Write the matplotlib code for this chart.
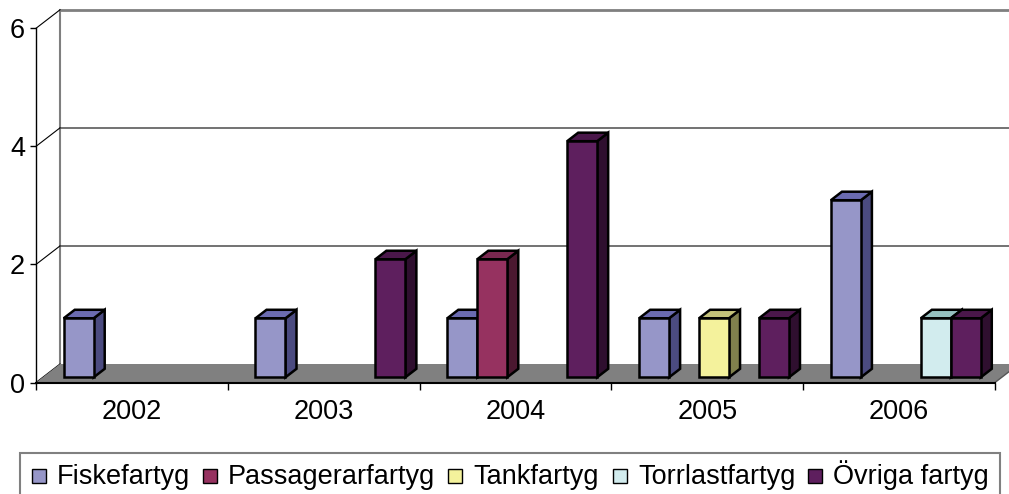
import matplotlib
matplotlib.use("Agg")
import matplotlib.pyplot as plt
from matplotlib.patches import Rectangle, Polygon
import numpy as np

# ---------------- data ----------------
years = ['2002', '2003', '2004', '2005', '2006']
series_names = ['Fiskefartyg', 'Passagerarfartyg', 'Tankfartyg', 'Torrlastfartyg', 'Övriga fartyg']
fiske = [1, 1, 1, 1, 3]
passagerar = [0, 0, 2, 0, 0]
tank = [0, 0, 0, 1, 0]
torrlast = [0, 0, 0, 0, 1]
ovriga = [0, 2, 4, 1, 1]
yticks = [0, 2, 4, 6]

# ---------------- styles ----------------
front_cols = ['#9696C8', '#963260', '#F4F29C', '#D2ECEE', '#5E1F5E']
top_cols = ['#6B6BB0', '#7A2850', '#C4C27A', '#96C0C0', '#4A174A']
side_cols = ['#4B4B80', '#4B1830', '#80804D', '#6A8484', '#2F0F2F']
FONT = 'Liberation Sans'
plt.rcParams['font.family'] = [FONT, 'DejaVu Sans']
FS = 19.5

W, H = 1009, 494
fig = plt.figure(figsize=(W / 100, H / 100), dpi=100)

# front plane in pixels
L, R = 36, 995
Y0, Y6 = 382.5, 28.3
ax = fig.add_axes([L / W, (H - Y0) / H, (R - L) / W, (Y0 - Y6) / H])
ncat = len(years)
ax.set_xlim(0, ncat)
ax.set_ylim(0, 6)

# depth vector (pixels) -> data units
px_x = (R - L) / ncat
px_y = (Y0 - Y6) / 6
DX = 24 / px_x
DY = 18.5 / px_y

# back wall lines and gridlines
grid_col = '#7F7F7F'
ax.plot([DX, DX], [DY, 6 + DY], color=grid_col, lw=1.5, clip_on=False, zorder=1)
for yv in yticks[1:]:
    lw = 2.0 if yv == 6 else 1.2
    ax.plot([DX, ncat + DX], [yv + DY, yv + DY], color=grid_col if yv == 6 else '#5a5a5a',
            lw=lw, clip_on=False, zorder=1)
# left side wall diagonals
for yv in yticks:
    ax.plot([0, DX], [yv, yv + DY], color='black', lw=0.8, clip_on=False, zorder=2)

# floor
floor = Polygon([[0, 0], [ncat, 0], [ncat + DX, DY], [DX, DY]], closed=True,
                facecolor='#808080', edgecolor='none', clip_on=False, zorder=2)
ax.add_patch(floor)
ax.plot([ncat, ncat + DX], [0, DY], color='#555555', lw=1.0, clip_on=False, zorder=2)

# bars
series = [fiske, passagerar, tank, torrlast, ovriga]
nser = len(series)
bw = 1 / (nser + 2 * 0.7)
gap = 0.7 * bw
f_front, f_back = 0.28, 0.74
BLW = 1.8
z = 3
for i in range(ncat):
    for j in range(nser):
        v = series[j][i]
        if v <= 0:
            continue
        x0 = i + gap + j * bw
        fx, fy = f_front * DX, f_front * DY
        bx, by = f_back * DX, f_back * DY
        side = Polygon([[x0 + bw + fx, fy], [x0 + bw + bx, by], [x0 + bw + bx, v + by],
                        [x0 + bw + fx, v + fy]], closed=True, facecolor=side_cols[j],
                       edgecolor='black', lw=BLW, joinstyle='miter', clip_on=False, zorder=z)
        top = Polygon([[x0 + fx, v + fy], [x0 + bw + fx, v + fy], [x0 + bw + bx, v + by],
                       [x0 + bx, v + by]], closed=True, facecolor=top_cols[j],
                      edgecolor='black', lw=BLW, joinstyle='miter', clip_on=False, zorder=z)
        front = Rectangle((x0 + fx, fy), bw, v, facecolor=front_cols[j], edgecolor='black',
                          lw=BLW, joinstyle='miter', clip_on=False, zorder=z + 0.5)
        ax.add_patch(side)
        ax.add_patch(top)
        ax.add_patch(front)
        z += 1

# axes / ticks
for s in ['top', 'right']:
    ax.spines[s].set_visible(False)
ax.spines['left'].set_color('black')
ax.spines['bottom'].set_color('black')
ax.spines['left'].set_linewidth(1.0)
ax.spines['bottom'].set_linewidth(1.5)
ax.spines['left'].set_zorder(50)
ax.spines['bottom'].set_zorder(50)
ax.set_yticks(yticks)
ax.set_yticklabels([str(t) for t in yticks], fontsize=FS, fontfamily=FONT)
ax.tick_params(axis='y', direction='out', length=4, width=1.0, pad=4.0, colors='black')
ax.set_xticks(np.arange(ncat + 1))
ax.set_xticklabels([])
ax.tick_params(axis='x', which='major', direction='out', length=5, width=1.0)
ax.set_xticks(np.arange(ncat) + 0.5, minor=True)
ax.set_xticklabels(years, minor=True, fontsize=FS, fontfamily=FONT)
ax.tick_params(axis='x', which='minor', length=0, pad=12)
ax.patch.set_visible(False)

# legend (manual layout, in figure pixels)
fig.patches.append(Rectangle((20 / W, (H - 510) / H), 980 / W, 57 / H, transform=fig.transFigure,
                             facecolor='none', edgecolor='#808080', lw=1.5))
text_x = [57, 228, 473, 638, 833]
for k, name in enumerate(series_names):
    mx = text_x[k] - 25
    fig.patches.append(Rectangle((mx / W, (H - 483) / H), 14 / W, 14 / H, transform=fig.transFigure,
                                 facecolor=front_cols[k], edgecolor='black', lw=1.0))
    fig.text(text_x[k] / W, (H - 483.5) / H, name, fontsize=FS, fontfamily=FONT,
             ha='left', va='baseline', color='black')

fig.savefig('out.png', dpi=100)
